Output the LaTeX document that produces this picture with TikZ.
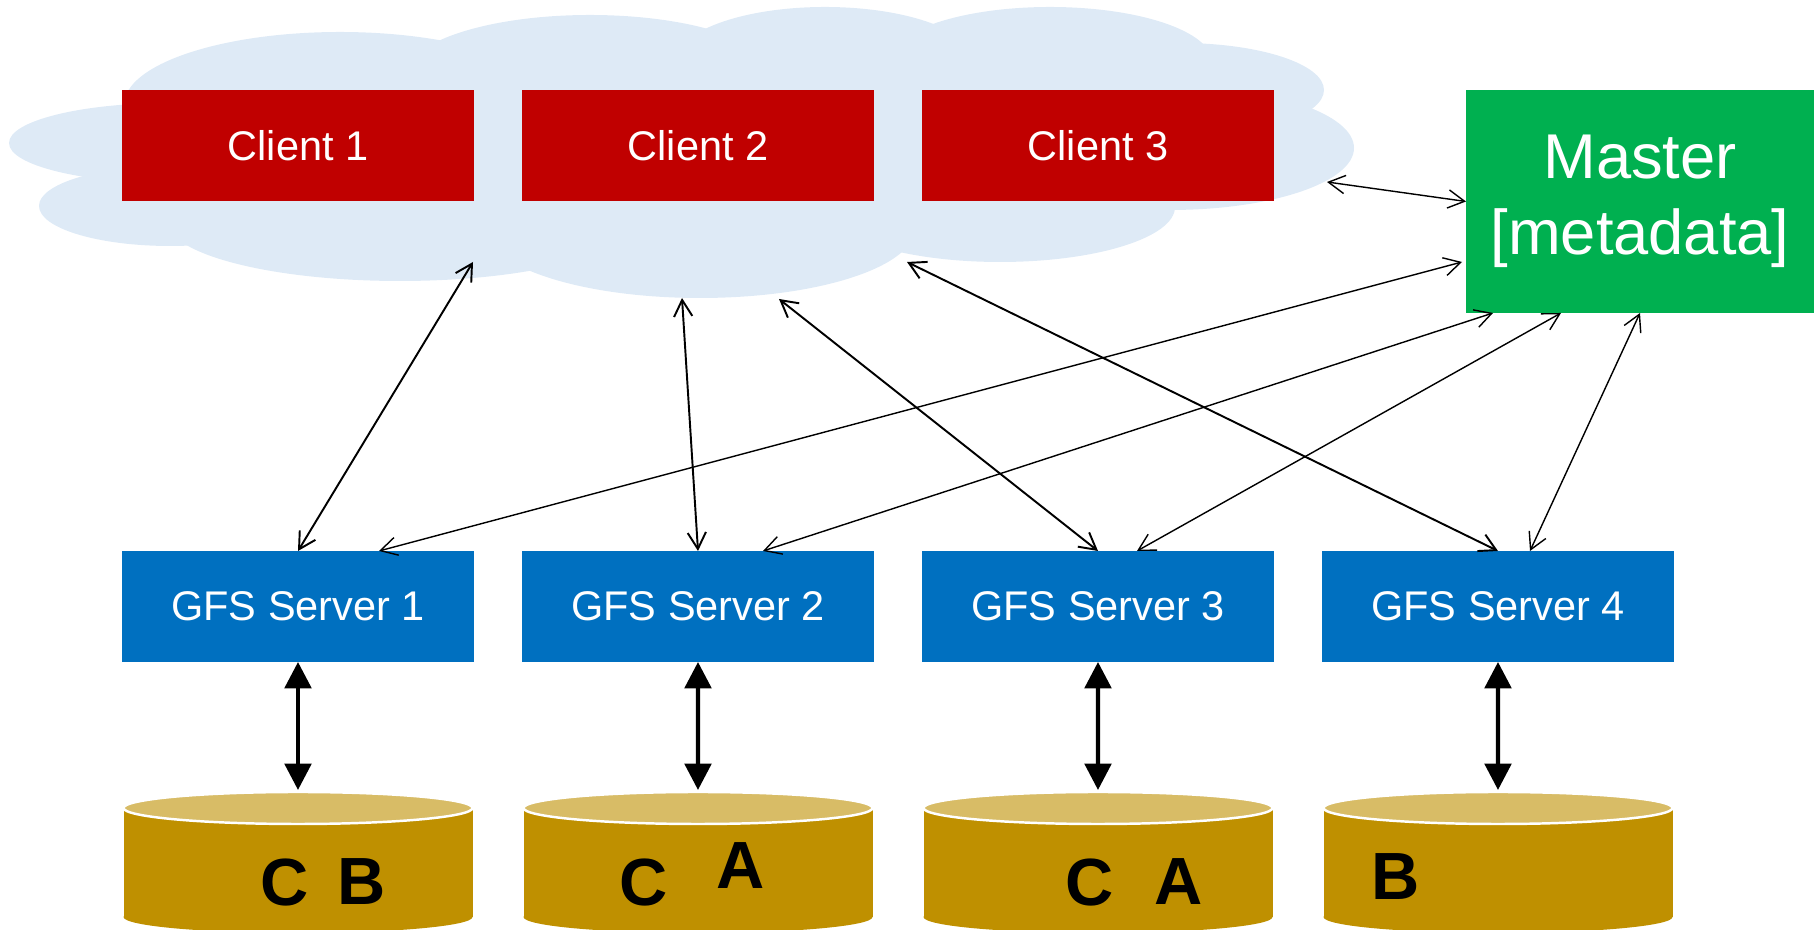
\documentclass[tikz,border=0pt]{standalone}
\usepackage{fontspec}
\setmainfont{Liberation Sans}
\usetikzlibrary{calc,positioning,arrows.meta}

\definecolor{cloudblue}{RGB}{222,234,246}
\definecolor{clientred}{RGB}{192,0,0}
\definecolor{mastergreen}{RGB}{0,176,80}
\definecolor{serverblue}{RGB}{0,112,192}
\definecolor{diskgold}{RGB}{191,144,0}
\definecolor{disktop}{RGB}{216,188,102}

\begin{document}
\begin{tikzpicture}[line cap=round,line join=round,x=0.1mm,y=-0.1mm,
  box/.style={minimum width=35.2mm,minimum height=11.1mm,inner sep=0pt,outer sep=0pt,text=white,font=\fontsize{11.8}{14}\selectfont},
  client/.style={box,fill=clientred},
  server/.style={box,fill=serverblue},
  mastbox/.style={fill=mastergreen,text=white,minimum width=34.8mm,minimum height=22.3mm,inner sep=0pt,outer sep=0pt,align=center,font=\fontsize{18}{21.6}\selectfont},
  letter/.style={inner sep=0pt,font=\bfseries\fontsize{19}{22}\selectfont},
  link/.style={line width=0.55pt,{Straight Barb[length=4.7pt,width=5.2pt]}-{Straight Barb[length=4.7pt,width=5.2pt]}},
  ctrl/.style={link,line width=0.4pt},
  io/.style={line width=1.2pt,{Triangle[length=7.5pt,width=7.5pt]}-{Triangle[length=7.5pt,width=7.5pt]}}]
\useasboundingbox (0,0) rectangle (1814,930);
% cloud
\fill[cloudblue] (200,60) -- (1200,60) -- (1200,180) -- (1150,220) -- (250,230) -- cycle;
\foreach \cx/\cy/\rx/\ry in {170/143/161/40,170/206/131/40,340/105/216/73,400/221/233/60,590/75/184/60,825/62/150/55,1050/62/162/55,1180/90/144/47,1170/148/184/62,1000/207/175/55,700/228/215/70}
\fill[cloudblue] (\cx,\cy) ellipse [x radius=\rx, y radius=\ry];

\node[client] (c1) at (298,145.5) {Client 1};
\node[client,right=4.8mm of c1] (c2) {Client 2};
\node[client,right=4.8mm of c2] (c3) {Client 3};
\node[mastbox] (master) at (1640,201.5) {Master\\{[metadata]}};

\node[server,below=35mm of c1] (s1) {GFS Server 1};
\node[server,right=4.8mm of s1] (s2) {GFS Server 2};
\node[server,right=4.8mm of s2] (s3) {GFS Server 3};
\node[server,right=4.8mm of s3] (s4) {GFS Server 4};

% disks
\foreach \i/\cx in {1/298,2/698,3/1098,4/1498}{
  \fill[diskgold] (\cx-174.5,808) rectangle (\cx+174.5,917);
  \fill[diskgold] (\cx,917) ellipse [x radius=174.5, y radius=16];
  \filldraw[fill=disktop,draw=white,line width=0.7pt] (\cx,808) ellipse [x radius=174.5, y radius=16];
  \coordinate (d\i) at (\cx,790);
}
\node[letter] (d1c) at (284.5,882.5) {C};
\node[letter] (d1b) at (361.5,882) {B};
\node[letter] (d2c) at (643.5,882.5) {C};
\node[letter] (d2a) at (740.5,866) {A};
\node[letter] (d3c) at (1089.5,882.5) {C};
\node[letter] (d3a) at (1179,882) {A};
\node[letter] (d4b) at (1395.5,877) {B};

\coordinate (cl1) at (473,262);
\coordinate (cl2) at (682,298);
\coordinate (cl3) at (779,299);
\coordinate (cl4) at (907,262);
\coordinate (cl5) at (1327,182);

\draw[link] (cl1) -- (s1.north);
\draw[link] (cl2) -- (s2.north);
\draw[link] (cl3) -- (s3.north);
\draw[link] (cl4) -- (s4.north);
\draw[ctrl] (cl5) -- (master.west);
\draw[ctrl] ($(master.south west)+(-4,-51)$) -- ($(s1.north)+(81,0)$);
\draw[ctrl] ($(master.south west)+(27,0)$) -- ($(s2.north)+(65,0)$);
\draw[ctrl] ($(master.south west)+(95,0)$) -- ($(s3.north)+(39,0)$);
\draw[ctrl] (master.south) -- ($(s4.north)+(32,0)$);
\foreach \i in {1,...,4}
\draw[io] (s\i.south) -- (d\i);
\end{tikzpicture}
\end{document}
